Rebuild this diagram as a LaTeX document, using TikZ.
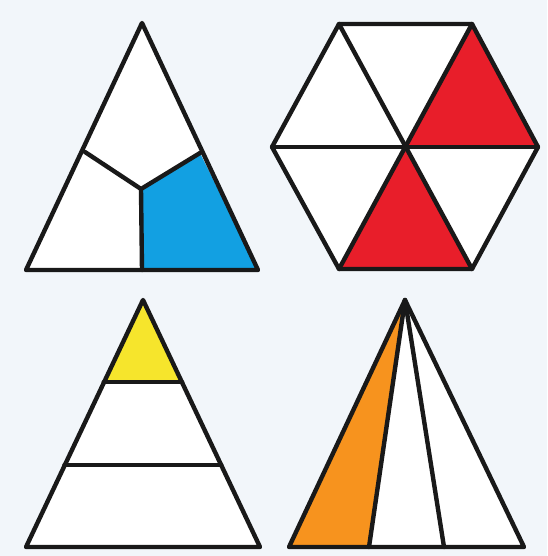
\documentclass[tikz,border=0pt]{standalone}
\definecolor{bg}{HTML}{F2F6FA}
\definecolor{cblue}{HTML}{12A0E2}
\definecolor{cred}{HTML}{E81E2A}
\definecolor{cyellow}{HTML}{F6E52C}
\definecolor{corange}{HTML}{F7931E}
\tikzset{edge/.style={line width=4.4pt, line join=round, line cap=round, draw=black!90}}
\begin{document}
\begin{tikzpicture}[x=1pt,y=-1pt]
\fill[bg] (0,0) rectangle (547,556);
\useasboundingbox (0,0) rectangle (547,556);
% top-left triangle
\coordinate (A) at (142,23);
\coordinate (B) at (26,270);
\coordinate (C) at (258,270);
\coordinate (L) at (85,152);
\coordinate (R) at (200,153);
\coordinate (M) at (141,189);
\coordinate (D) at (142,270);
\fill[white] (A) -- (B) -- (C) -- cycle;
\fill[cblue] (M) -- (R) -- (C) -- (D) -- cycle;
\draw[edge] (A) -- (B) -- (C) -- cycle;
\draw[edge] (L) -- (M) -- (R);
\draw[edge] (M) -- (D);
% hexagon
\coordinate (O) at (405,147);
\coordinate (H1) at (538,147);
\coordinate (H2) at (472,24);
\coordinate (H3) at (339,24);
\coordinate (H4) at (272,147);
\coordinate (H5) at (339,269);
\coordinate (H6) at (472,269);
\fill[white] (H1) -- (H2) -- (H3) -- (H4) -- (H5) -- (H6) -- cycle;
\fill[cred] (O) -- (H1) -- (H2) -- cycle;
\fill[cred] (O) -- (H5) -- (H6) -- cycle;
\draw[edge] (H1) -- (H2) -- (H3) -- (H4) -- (H5) -- (H6) -- cycle;
\draw[edge] (H1) -- (H4);
\draw[edge] (H2) -- (H5);
\draw[edge] (H3) -- (H6);
% bottom-left triangle
\coordinate (P) at (143,300);
\coordinate (PB) at (26,547);
\coordinate (PC) at (260,547);
\coordinate (P1l) at (103.7,382);
\coordinate (P1r) at (182.1,382);
\coordinate (P2l) at (64.4,465);
\coordinate (P2r) at (221.3,465);
\fill[white] (P) -- (PB) -- (PC) -- cycle;
\fill[cyellow] (P) -- (P1l) -- (P1r) -- cycle;
\draw[edge] (P) -- (PB) -- (PC) -- cycle;
\draw[edge] (P1l) -- (P1r);
\draw[edge] (P2l) -- (P2r);
% bottom-right triangle
\coordinate (Q) at (405,300);
\coordinate (QB) at (289,547);
\coordinate (QC) at (524,547);
\coordinate (Q1) at (369,547);
\coordinate (Q2) at (444,547);
\fill[white] (Q) -- (QB) -- (QC) -- cycle;
\fill[corange] (Q) -- (QB) -- (Q1) -- cycle;
\draw[edge] (Q) -- (QB) -- (QC) -- cycle;
\draw[edge] (Q) -- (Q1);
\draw[edge] (Q) -- (Q2);
\end{tikzpicture}
\end{document}
